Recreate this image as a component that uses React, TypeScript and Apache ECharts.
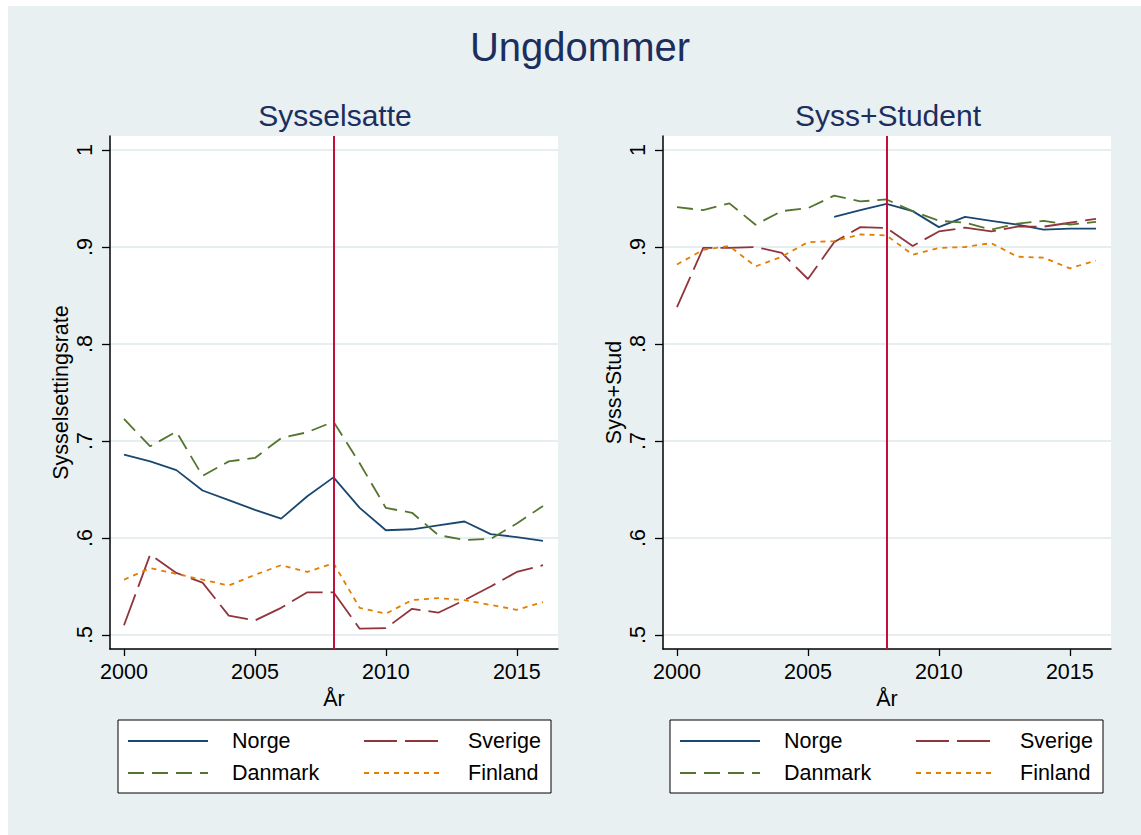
import React, { useEffect, useRef } from "react";
import * as echarts from "echarts";

const years = [2000, 2001, 2002, 2003, 2004, 2005, 2006, 2007, 2008, 2009, 2010, 2011, 2012, 2013, 2014, 2015, 2016];
const xTicks = [2000, 2005, 2010, 2015];
const yTicks = [0.5, 0.6, 0.7, 0.8, 0.9, 1.0];
const countries = ["Norge", "Sverige", "Danmark", "Finland"];

// Sysselsatte
const empNorge = [0.686, 0.679, 0.670, 0.649, 0.639, 0.629, 0.620, 0.643, 0.6625, 0.631, 0.608, 0.609, 0.613, 0.617, 0.604, 0.601, 0.597];
const empSverige = [0.510, 0.583, 0.564, 0.554, 0.520, 0.515, 0.528, 0.544, 0.544, 0.5065, 0.507, 0.527, 0.523, 0.536, 0.550, 0.565, 0.572];
const empDanmark = [0.7227, 0.6945, 0.7096, 0.664, 0.679, 0.6825, 0.703, 0.709, 0.720, 0.677, 0.631, 0.626, 0.603, 0.598, 0.599, 0.615, 0.633];
const empFinland = [0.557, 0.569, 0.563, 0.557, 0.551, 0.562, 0.572, 0.565, 0.574, 0.528, 0.522, 0.536, 0.538, 0.536, 0.531, 0.526, 0.534];

// Syss+Student
const stuNorge = [null, null, null, null, null, null, 0.931, 0.938, 0.9445, 0.937, 0.9205, 0.931, 0.927, 0.923, 0.918, 0.919, 0.919];
const stuSverige = [0.838, 0.899, 0.899, 0.900, 0.894, 0.867, 0.905, 0.9205, 0.9195, 0.901, 0.916, 0.920, 0.916, 0.921, 0.921, 0.925, 0.929];
const stuDanmark = [0.941, 0.938, 0.945, 0.923, 0.937, 0.940, 0.953, 0.947, 0.949, 0.937, 0.927, 0.925, 0.918, 0.924, 0.927, 0.923, 0.926];
const stuFinland = [0.882, 0.897, 0.901, 0.880, 0.890, 0.905, 0.906, 0.913, 0.912, 0.892, 0.899, 0.900, 0.904, 0.890, 0.889, 0.878, 0.886];

const crisisYear = 2008;

const FONT = "'Liberation Sans', Arial, Helvetica, sans-serif";
const BG = "#e8f0f2";
const TITLE_COLOR = "#1c2e5e";
const GRIDLINE = "#e6eef0";
const VLINE = "#c40f3c";

const styles: Record<string, { color: string; type: any }> = {
  Norge: { color: "#1a476f", type: "solid" },
  Sverige: { color: "#90353b", type: [33, 8] },
  Danmark: { color: "#55752f", type: [16, 8] },
  Finland: { color: "#e37e00", type: [5, 5] },
};

const App: React.FC = () => {
  const ref = useRef<HTMLDivElement>(null);

  useEffect(() => {
    if (!ref.current) return;
    const chart = echarts.init(ref.current, undefined, { renderer: "svg" });

    const pxPerYear = 26.2;
    const pxPerUnit = 970;
    const xMin = 2000 - 14 / pxPerYear;
    const xMax = 2016 + 15 / pxPerYear;
    const yMin = 0.5 - 14 / pxPerUnit;
    const yMax = 1.0 + 14 / pxPerUnit;

    const grids = [
      { left: 102, top: 130, width: 448, height: 513 },
      { left: 655, top: 130, width: 448, height: 513 },
    ];

    const makeX = (gi: number) => ({
      type: "value",
      gridIndex: gi,
      min: xMin,
      max: xMax,
      name: "År",
      nameLocation: "middle",
      nameGap: 33,
      nameTextStyle: { fontSize: 21.5, color: "#000", fontFamily: FONT },
      axisLine: { show: true, lineStyle: { color: "#000", width: 1.5 } },
      axisTick: { show: true, length: 7, customValues: xTicks, lineStyle: { color: "#000", width: 1.3 } },
      axisLabel: {
        customValues: xTicks,
        fontSize: 21.5,
        color: "#000",
        fontFamily: FONT,
        margin: 12,
        formatter: (v: number) => String(Math.round(v)),
      },
      splitLine: { show: false },
    });

    const makeY = (gi: number, name: string) => ({
      type: "value",
      gridIndex: gi,
      min: yMin,
      max: yMax,
      name,
      nameLocation: "middle",
      nameGap: 38,
      nameTextStyle: { fontSize: 21.5, color: "#000", fontFamily: FONT },
      axisLine: { show: true, lineStyle: { color: "#000", width: 1.5 } },
      axisTick: { show: true, length: 8, customValues: yTicks, lineStyle: { color: "#000", width: 1.3 } },
      axisLabel: {
        customValues: yTicks,
        rotate: 90,
        fontSize: 21.5,
        color: "#000",
        fontFamily: FONT,
        margin: 14,
        formatter: (v: number) => (Math.abs(v - 1) < 1e-9 ? "1" : "." + Math.round(v * 10)),
      },
      splitLine: { show: true, lineStyle: { color: GRIDLINE, width: 2 } },
    });

    const panelData = [
      { Norge: empNorge, Sverige: empSverige, Danmark: empDanmark, Finland: empFinland },
      { Norge: stuNorge, Sverige: stuSverige, Danmark: stuDanmark, Finland: stuFinland },
    ];

    const series: any[] = [];
    panelData.forEach((pd: any, gi) => {
      countries.forEach((c) => {
        const s: any = {
          type: "line",
          name: c,
          xAxisIndex: gi,
          yAxisIndex: gi,
          data: years.map((y, i) => [y, pd[c][i]]),
          symbol: "none",
          showSymbol: false,
          lineStyle: { color: styles[c].color, type: styles[c].type, width: 1.8 },
          itemStyle: { color: styles[c].color },
          connectNulls: false,
        };
        if (c === "Norge") {
          s.markLine = {
            silent: true,
            symbol: "none",
            label: { show: false },
            lineStyle: { color: VLINE, type: "solid", width: 2 },
            data: [{ xAxis: crisisYear }],
          };
        }
        series.push(s);
      });
    });

    const legendPos = [
      { name: "Norge", dx: 0, row: 0 },
      { name: "Sverige", dx: 236, row: 0 },
      { name: "Danmark", dx: 0, row: 1 },
      { name: "Finland", dx: 236, row: 1 },
    ];
    const legendBoxes = [110, 662];
    const legends: any[] = [];
    legendBoxes.forEach((bx) => {
      legendPos.forEach((lp) => {
        legends.push({
          data: [lp.name],
          left: bx + 9 + lp.dx,
          top: lp.row === 0 ? 724 : 756,
          padding: 0,
          itemWidth: 80,
          itemHeight: 14,
          itemStyle: { opacity: 0 },
          selectedMode: false,
          textStyle: { fontSize: 21.5, color: "#000", fontFamily: FONT, padding: [0, 0, 0, 19] },
        });
      });
    });

    chart.setOption({
      animation: false,
      backgroundColor: BG,
      title: [
        {
          text: "Ungdommer",
          left: 572,
          top: 21,
          textAlign: "center",
          padding: 0,
          textStyle: { fontSize: 40, fontWeight: "normal", color: TITLE_COLOR, fontFamily: FONT },
        },
        {
          text: "Sysselsatte",
          left: 327,
          top: 94,
          textAlign: "center",
          padding: 0,
          textStyle: { fontSize: 30, fontWeight: "normal", color: TITLE_COLOR, fontFamily: FONT },
        },
        {
          text: "Syss+Student",
          left: 880,
          top: 94,
          textAlign: "center",
          padding: 0,
          textStyle: { fontSize: 30, fontWeight: "normal", color: TITLE_COLOR, fontFamily: FONT },
        },
      ],
      grid: grids.map((g) => ({
        ...g,
        show: true,
        backgroundColor: "#ffffff",
        borderWidth: 0,
        containLabel: false,
        outerBoundsMode: "none",
      })),
      xAxis: [makeX(0), makeX(1)],
      yAxis: [makeY(0, "Sysselsettingsrate"), makeY(1, "Syss+Stud")],
      legend: legends,
      graphic: legendBoxes.map((bx) => ({
        type: "rect",
        z: 0,
        shape: { x: bx, y: 714, width: 433, height: 73 },
        style: { fill: "#ffffff", stroke: "#000000", lineWidth: 1 },
      })),
      series,
    });

    return () => chart.dispose();
  }, []);

  return (
    <div
      ref={ref}
      style={{ position: "absolute", left: 8, top: 6, width: 1133, height: 829 }}
    />
  );
};

export default App;
